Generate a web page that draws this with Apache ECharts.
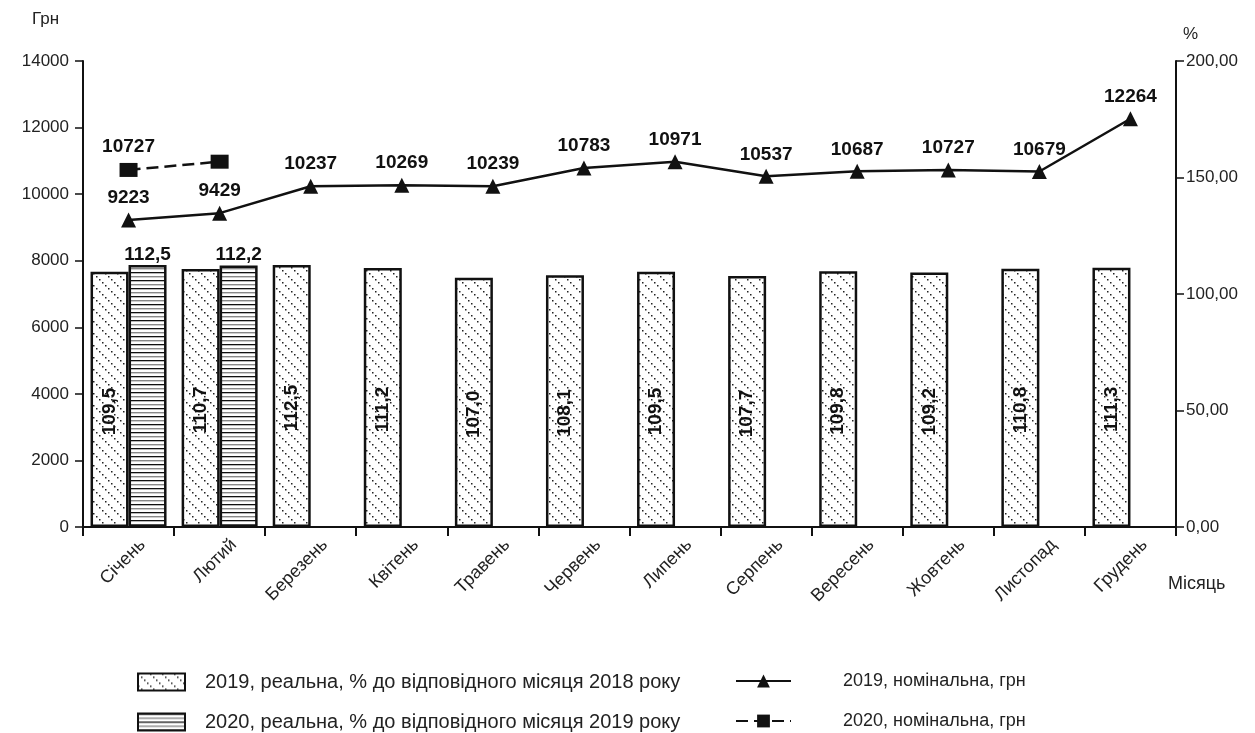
<!DOCTYPE html>
<html>
<head>
<meta charset="utf-8">
<script src="https://cdn.jsdelivr.net/npm/echarts@6/dist/echarts.min.js"></script>
<style>
html,body{margin:0;padding:0;background:#fff;}
#c{width:1255px;height:733px;}
</style>
</head>
<body>
<div id="c"></div>
<script>
const months = ['Січень','Лютий','Березень','Квітень','Травень','Червень','Липень','Серпень','Вересень','Жовтень','Листопад','Грудень'];
const real2019 = [109.5,110.7,112.5,111.2,107.0,108.1,109.5,107.7,109.8,109.2,110.8,111.3];
const real2020 = [112.5,112.2,null,null,null,null,null,null,null,null,null,null];
const nominal2019 = [9223,9429,10237,10269,10239,10783,10971,10537,10687,10727,10679,12264];
const nominal2020 = [10727,10975,null,null,null,null,null,null,null,null,null,null];
const leftTicks = {min:0,max:14000,interval:2000};
const rightTicks = {min:0,max:200,interval:50};
const names = {
  r19:'2019, реальна, % до відповідного місяця 2018 року',
  r20:'2020, реальна, % до відповідного місяця 2019 року',
  n19:'2019, номінальна, грн',
  n20:'2020, номінальна, грн'
};

function diagPattern(){
  const c=document.createElement('canvas'); c.width=12; c.height=12;
  const g=c.getContext('2d'); g.fillStyle='#fff'; g.fillRect(0,0,12,12);
  g.fillStyle='#222';
  for(let i=0;i<12;i+=3){ g.fillRect(i,i,1.5,1.5); }
  return c;
}
function horizPattern(){
  const c=document.createElement('canvas'); c.width=4; c.height=8;
  const g=c.getContext('2d'); g.fillStyle='#fff'; g.fillRect(0,0,4,8);
  g.fillStyle='#111'; g.fillRect(0,0,4,1.3);
  g.fillStyle='#888'; g.fillRect(0,4,4,1.4);
  return c;
}
const fmt1 = v => v.toFixed(1).replace('.',',');
const font = 'Liberation Sans, Arial, sans-serif';

const chart = echarts.init(document.getElementById('c'));
function lg(name, left, top, w, h, size, pad, icon){
  const o = {data:[name],left:left,top:top,itemWidth:w,itemHeight:h,
    textStyle:{fontFamily:font,fontSize:size,color:'#222',padding:[0,0,0,pad]}};
  if(icon) o.icon = icon;
  return o;
}
chart.setOption({
  animation:false,
  backgroundColor:'#fff',
  textStyle:{fontFamily:font},
  grid:{left:83,right:79,top:61,bottom:206},
  legend:[
    lg(names.r19,132,667,47,17,20,15,'rect'),
    lg(names.r20,132,707,47,17,20,15,'rect'),
    lg(names.n19,730,667,55,16,18,47),
    lg(names.n20,730,707,55,16,18,47)
  ],
  xAxis:{
    type:'category', data:months, boundaryGap:true,
    axisLine:{lineStyle:{color:'#111',width:2}},
    axisTick:{show:true,length:9,lineStyle:{color:'#111',width:2}},
    axisLabel:{rotate:45,interval:0,fontSize:18,color:'#222',margin:1,fontFamily:font,
      verticalAlign:'top',lineHeight:40}
  },
  yAxis:[
    {type:'value',min:leftTicks.min,max:leftTicks.max,interval:leftTicks.interval,position:'left',
     splitLine:{show:false},
     axisLine:{show:true,lineStyle:{color:'#111',width:2}},
     axisTick:{show:true,length:8,lineStyle:{color:'#111',width:1.5}},
     axisLabel:{fontSize:17,color:'#222',margin:14,fontFamily:font,formatter:v=>String(v)}},
    {type:'value',min:rightTicks.min,max:rightTicks.max,interval:rightTicks.interval,position:'right',
     splitLine:{show:false},
     axisLine:{show:true,lineStyle:{color:'#111',width:2}},
     axisTick:{show:true,length:8,lineStyle:{color:'#111',width:1.5}},
     axisLabel:{fontSize:17,color:'#222',margin:10,fontFamily:font,formatter:v=>v.toFixed(2).replace('.',',')}}
  ],
  graphic:[
    {type:'text',left:32,top:11,style:{text:'Грн',fontSize:17,fill:'#222',fontFamily:font}},
    {type:'text',left:1183,top:26,style:{text:'%',fontSize:17,fill:'#222',fontFamily:font}},
    {type:'text',left:1168,top:575,style:{text:'Місяць',fontSize:18,fill:'#222',fontFamily:font}}
  ],
  series:[
    {name:names.r19,type:'bar',yAxisIndex:1,data:real2019,barWidth:38,barGap:'0%',
     itemStyle:{color:{image:diagPattern(),repeat:'repeat'},borderColor:'#111',borderWidth:2.5},
     label:{show:true,position:'inside',rotate:90,fontSize:19,fontWeight:'bold',color:'#111',formatter:p=>fmt1(p.value),offset:[-12,0]},
     z:2},
    {name:names.r20,type:'bar',yAxisIndex:1,data:real2020,barWidth:38,
     itemStyle:{color:{image:horizPattern(),repeat:'repeat'},borderColor:'#111',borderWidth:2.5},
     label:{show:true,position:'top',distance:1,fontSize:19,fontWeight:'bold',color:'#111',formatter:p=>p.value==null?'':fmt1(p.value)},
     z:2},
    {name:names.n19,type:'line',yAxisIndex:0,data:nominal2019,symbol:'triangle',symbolSize:15,
     lineStyle:{color:'#111',width:2.5},itemStyle:{color:'#111'},
     label:{show:true,position:'top',distance:5,fontSize:19,fontWeight:'bold',color:'#111'},z:5},
    {name:names.n20,type:'line',yAxisIndex:0,data:nominal2020,symbol:'rect',symbolSize:[18,14],
     lineStyle:{color:'#111',width:2.5,type:[12,6]},itemStyle:{color:'#111'},
     label:{show:true,position:'top',distance:7,fontSize:19,fontWeight:'bold',color:'#111',
       formatter:p=>p.dataIndex===0?String(p.value):''},z:5}
  ]
});
</script>
</body>
</html>
